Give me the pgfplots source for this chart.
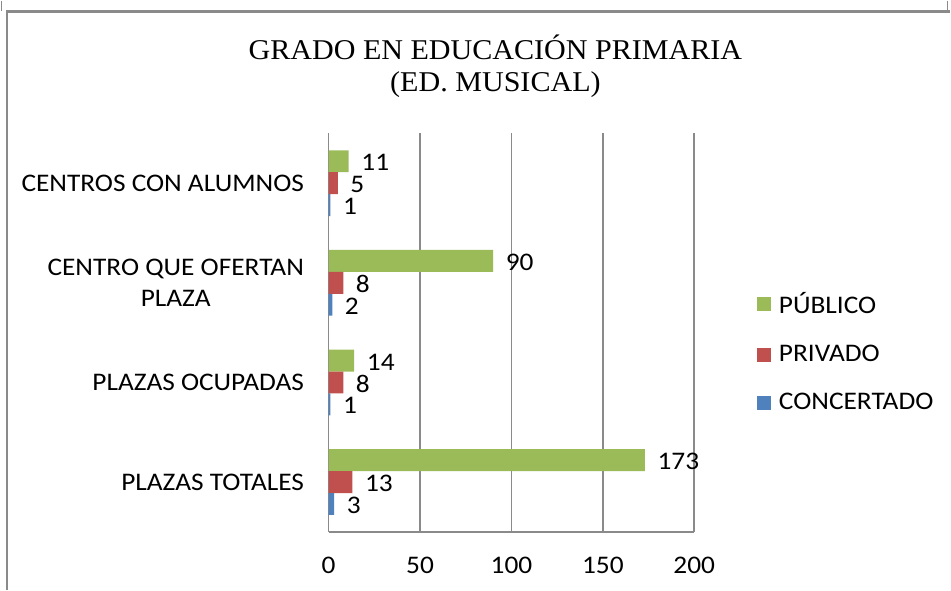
\documentclass[border=0pt]{standalone}
\usepackage{fontspec}
\setmainfont{Carlito}[FakeStretch=1.08]
\newfontfamily\titlefont{Liberation Serif}[FakeStretch=1.05]
\usepackage{pgfplots}
\pgfplotsset{compat=1.18}
\definecolor{pubGreen}{HTML}{9BBB59}
\definecolor{privRed}{HTML}{C0504D}
\definecolor{concBlue}{HTML}{4F81BD}
\definecolor{gridGray}{HTML}{8A8A8A}

\begin{document}
\fontsize{19}{22}\selectfont
\begin{tikzpicture}
  \begin{axis}[
    width=274.5pt,height=299.25pt,scale only axis,
    xbar,bar width=0.22,
    xmin=0,xmax=200,xtick={0,50,100,150,200},
    ymin=0.5,ymax=4.5,ytick={1,2,3,4},
    yticklabels={PLAZAS TOTALES,PLAZAS OCUPADAS,{CENTRO QUE OFERTAN\\PLAZA},CENTROS CON ALUMNOS},
    yticklabel style={align=center,xshift=-12pt},
    xticklabel style={yshift=-12pt},
    /pgf/number format/assume math mode=true,
    point meta=x,
    axis lines=left,
    axis line style={-,draw=gridGray,line width=1.2pt},
    major tick length=0pt,
    xmajorgrids,
    grid style={draw=gridGray,line width=1.2pt},
    tick label style={font=\fontsize{19}{23}\selectfont},
    nodes near coords,
    nodes near coords style={font=\fontsize{19}{22}\selectfont,anchor=west,xshift=3pt,yshift=-1pt},
    legend style={at={(1.16,0.45)},anchor=west,draw=none,fill=none,
                  font=\fontsize{19}{22}\selectfont,row sep=17pt,
                  nodes={inner xsep=6pt}},
    legend cell align=left,
    legend image code/.code={\fill[#1] (0pt,-5.2pt) rectangle (10.5pt,5.2pt);},
  ]
    \addplot[fill=pubGreen,draw=none,bar shift=0.22]
      coordinates {(11,4) (90,3) (14,2) (173,1)};
    \addplot[fill=privRed,draw=none,bar shift=0]
      coordinates {(5,4) (8,3) (8,2) (13,1)};
    \addplot[fill=concBlue,draw=none,bar shift=-0.22]
      coordinates {(1,4) (2,3) (1,2) (3,1)};
    \legend{PÚBLICO,PRIVADO,CONCERTADO}
  \end{axis}
  \node[align=center,font=\titlefont\fontsize{21.5}{24}\selectfont] at (125.25pt,350pt)
    {GRADO EN EDUCACIÓN PRIMARIA\\(ED. MUSICAL)};
  \draw[gridGray,line width=1.6pt] (-241.5pt,-43.5pt) -- (-241.5pt,390.75pt) -- (466.5pt,390.75pt);
  \draw[gridGray,line width=0.8pt] (-245.6pt,399pt) -- (-245.6pt,391pt);
  \draw[gridGray,line width=0.8pt] (464.6pt,399pt) -- (464.6pt,391pt);
  \path[use as bounding box] (-246.75pt,-43.5pt) rectangle (466.5pt,399pt);
\end{tikzpicture}
\end{document}
